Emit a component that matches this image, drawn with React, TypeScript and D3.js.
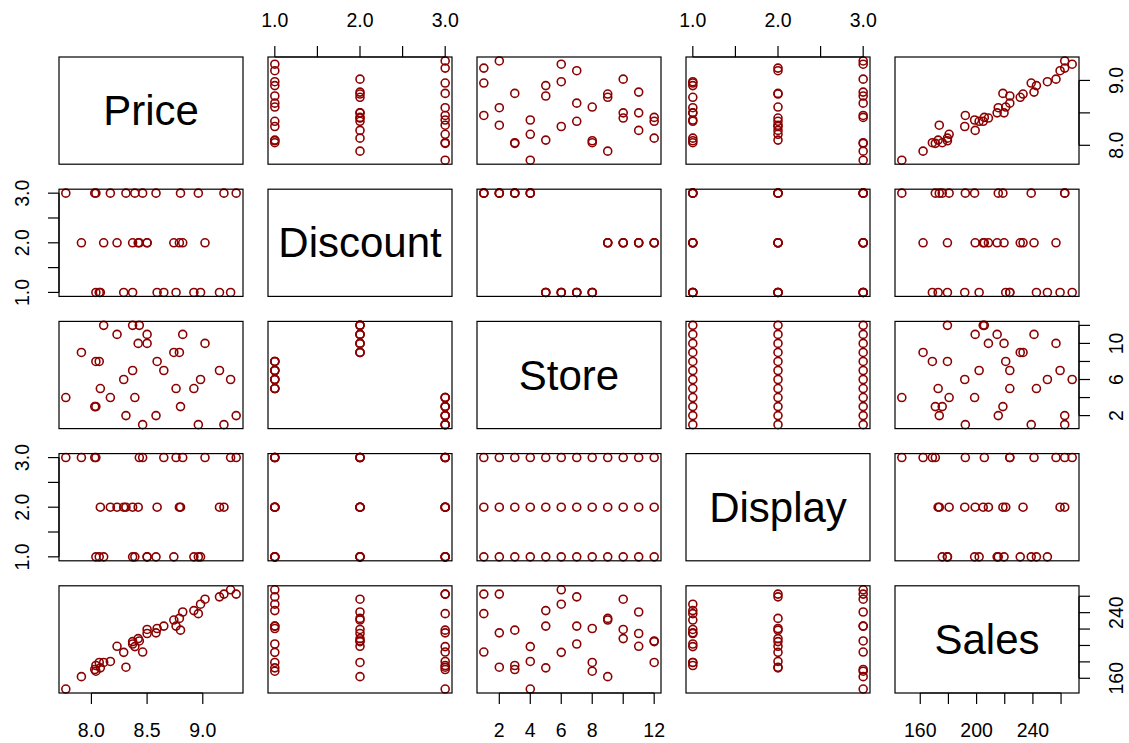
import React from 'react';
import * as d3 from 'd3';

const varNames = ['Price', 'Discount', 'Store', 'Display', 'Sales'];

const store = [1,1,1, 2,2,2, 3,3,3, 4,4,4, 5,5,5, 6,6,6, 7,7,7, 8,8,8, 9,9,9, 10,10,10, 11,11,11, 12,12,12];
const display = [1,2,3, 1,2,3, 1,2,3, 1,2,3, 1,2,3, 1,2,3, 1,2,3, 1,2,3, 1,2,3, 1,2,3, 1,2,3, 1,2,3];
const discount = [3,3,3, 3,3,3, 3,3,3, 3,3,3, 1,1,1, 1,1,1, 1,1,1, 1,1,1, 2,2,2, 2,2,2, 2,2,2, 2,2,2];
const price = [
  8.96, 9.19, 8.46,
  8.58, 8.31, 9.30,
  8.04, 8.80, 8.03,
  8.39, 8.17, 7.77,
  8.92, 8.08, 8.76,
  8.98, 8.29, 9.25,
  8.37, 9.15, 8.65,
  8.07, 8.59, 8.04,
  8.74, 8.79, 7.91,
  8.50, 8.42, 9.02,
  8.50, 8.23, 8.82,
  8.11, 8.37, 8.43,
];
const sales = [
  238.8, 262.6, 192.0,
  215.4, 173.5, 262.6,
  175.6, 218.7, 170.7,
  198.6, 180.5, 146.9,
  242.5, 172.7, 223.6,
  250.3, 191.6, 267.9,
  201.8, 259.3, 223.6,
  179.3, 220.7, 168.6,
  231.0, 233.0, 162.0,
  219.5, 208.4, 256.4,
  214.6, 199.0, 240.8,
  179.3, 204.7, 205.5,
];

// ticks per variable
const priceTicks = [8.0, 8.5, 9.0];
const levelTicks = [1.0, 1.5, 2.0, 2.5, 3.0];
const storeTicks = [2, 4, 6, 8, 10, 12];
const salesTicks = [160, 180, 200, 220, 240, 260];

// labels shown (R drops overlapping ones)
const priceLabelsX = [8.0, 8.5, 9.0];
const priceLabelsY = [8.0, 9.0];
const levelLabels = [1.0, 2.0, 3.0];
const storeLabelsX = [2, 4, 6, 8, 12];
const storeLabelsY = [2, 6, 10];
const salesLabelsX = [160, 200, 240];
const salesLabelsY = [160, 240];

const dataCols = [price, discount, store, display, sales];
const tickSets = [priceTicks, levelTicks, storeTicks, levelTicks, salesTicks];
const xLabelSets = [priceLabelsX, levelLabels, storeLabelsX, levelLabels, salesLabelsX];
const yLabelSets = [priceLabelsY, levelLabels, storeLabelsY, levelLabels, salesLabelsY];
const fmt = [d3.format('.1f'), d3.format('.1f'), d3.format('d'), d3.format('.1f'), d3.format('d')];

const W = 1129, H = 743;
const left = 59, top = 57, pw = 184, ph = 107.2, gap = 25;
const tickLen = 11;
const labelOff = 37;
const font = '"Liberation Sans", Arial, Helvetica, sans-serif';
const pointColor = '#8B0000';

function domainOf(vals: number[]): [number, number] {
  const [lo, hi] = d3.extent(vals) as [number, number];
  const r = hi - lo;
  return [lo - 0.04 * r, hi + 0.04 * r];
}

export default function App() {
  const n = varNames.length;
  const domains = dataCols.map(domainOf);
  const xScales = domains.map((dom, j) => {
    const x0 = left + j * (pw + gap);
    return d3.scaleLinear().domain(dom).range([x0, x0 + pw]);
  });
  const yScales = domains.map((dom, i) => {
    const y0 = top + i * (ph + gap);
    return d3.scaleLinear().domain(dom).range([y0 + ph, y0]);
  });

  const panels: React.ReactNode[] = [];
  for (let i = 0; i < n; i++) {
    for (let j = 0; j < n; j++) {
      const x0 = left + j * (pw + gap);
      const y0 = top + i * (ph + gap);
      const children: React.ReactNode[] = [];
      if (i === j) {
        children.push(
          <text key="lab" x={x0 + pw / 2} y={y0 + ph / 2} textAnchor="middle" dominantBaseline="central"
            fontSize={42} fontFamily={font} fill="#000">{varNames[i]}</text>
        );
      } else {
        const xs = xScales[j], ys = yScales[i];
        const xd = dataCols[j], yd = dataCols[i];
        xd.forEach((v, k) => {
          children.push(
            <circle key={'p' + k} cx={xs(v)} cy={ys(yd[k])} r={4} fill="none" stroke={pointColor} strokeWidth={1.6} />
          );
        });
      }
      children.push(
        <rect key="box" x={x0} y={y0} width={pw} height={ph} fill="none" stroke="#000" strokeWidth={1.2} />
      );
      panels.push(<g key={`p${i}-${j}`}>{children}</g>);
    }
  }

  // axes
  const axes: React.ReactNode[] = [];
  for (let j = 0; j < n; j++) {
    const xs = xScales[j];
    const ticks = tickSets[j];
    const labels = xLabelSets[j];
    const isTop = j % 2 === 1;
    const edge = isTop ? top : top + (n - 1) * (ph + gap) + ph;
    const dir = isTop ? -1 : 1;
    axes.push(
      <g key={'xa' + j}>
        <line x1={xs(ticks[0])} x2={xs(ticks[ticks.length - 1])} y1={edge} y2={edge} stroke="#000" strokeWidth={1.2} />
        {ticks.map(t => (
          <line key={t} x1={xs(t)} x2={xs(t)} y1={edge} y2={edge + dir * tickLen} stroke="#000" strokeWidth={1.2} />
        ))}
        {labels.map(t => (
          <text key={'l' + t} x={xs(t)} y={edge + dir * labelOff} textAnchor="middle" dominantBaseline="central"
            fontSize={19.5} fontFamily={font} fill="#000">{fmt[j](t)}</text>
        ))}
      </g>
    );
  }
  for (let i = 0; i < n; i++) {
    const ys = yScales[i];
    const ticks = tickSets[i];
    const labels = yLabelSets[i];
    const isLeft = i % 2 === 1;
    const edge = isLeft ? left : left + (n - 1) * (pw + gap) + pw;
    const dir = isLeft ? -1 : 1;
    axes.push(
      <g key={'ya' + i}>
        <line x1={edge} x2={edge} y1={ys(ticks[0])} y2={ys(ticks[ticks.length - 1])} stroke="#000" strokeWidth={1.2} />
        {ticks.map(t => (
          <line key={t} x1={edge} x2={edge + dir * tickLen} y1={ys(t)} y2={ys(t)} stroke="#000" strokeWidth={1.2} />
        ))}
        {labels.map(t => {
          const lx = edge + dir * labelOff;
          const ly = ys(t);
          return (
            <text key={'l' + t} x={lx} y={ly} transform={`rotate(-90 ${lx} ${ly})`} textAnchor="middle"
              dominantBaseline="central" fontSize={19.5} fontFamily={font} fill="#000">{fmt[i](t)}</text>
          );
        })}
      </g>
    );
  }

  return (
    <svg width={W} height={H} style={{ position: 'absolute', left: 0, top: 0, background: '#fff' }}>
      <rect x={0} y={0} width={W} height={H} fill="#fff" />
      {panels}
      {axes}
    </svg>
  );
}
